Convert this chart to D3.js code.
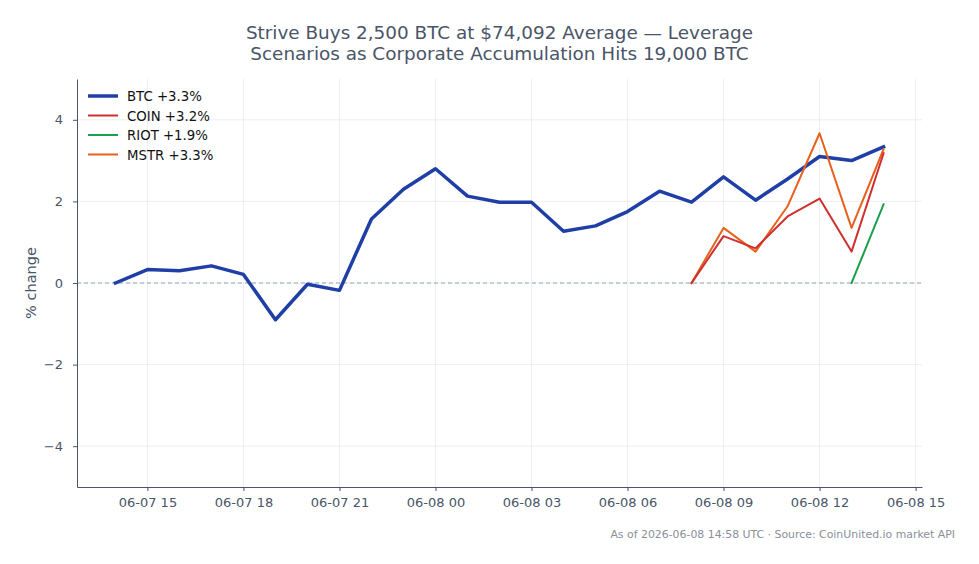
<!DOCTYPE html>
<html>
<head>
<meta charset="utf-8">
<script src="https://cdn.jsdelivr.net/npm/d3@7"></script>
<style>
  body { margin: 0; background: #fff; }
  text { font-family: "DejaVu Sans", sans-serif; }
</style>
</head>
<body>
<div id="chart"></div>
<script>
// hourly timestamps, 06-07 14:00 to 06-08 14:00 UTC
var hours = ["2026-06-07T14:00", "2026-06-07T15:00", "2026-06-07T16:00", "2026-06-07T17:00",
  "2026-06-07T18:00", "2026-06-07T19:00", "2026-06-07T20:00", "2026-06-07T21:00",
  "2026-06-07T22:00", "2026-06-07T23:00", "2026-06-08T00:00", "2026-06-08T01:00",
  "2026-06-08T02:00", "2026-06-08T03:00", "2026-06-08T04:00", "2026-06-08T05:00",
  "2026-06-08T06:00", "2026-06-08T07:00", "2026-06-08T08:00", "2026-06-08T09:00",
  "2026-06-08T10:00", "2026-06-08T11:00", "2026-06-08T12:00", "2026-06-08T13:00",
  "2026-06-08T14:00"];

var btc  = [0, 0.33, 0.30, 0.42, 0.21, -0.90, -0.03, -0.18, 1.57, 2.30, 2.80, 2.13,
            1.98, 1.98, 1.27, 1.40, 1.75, 2.25, 1.98, 2.60, 2.03, 2.55, 3.10, 3.00, 3.34];
// the stocks only trade in the last hours
var coin = [0, 1.15, 0.85, 1.63, 2.07, 0.77, 3.18];   // from 06-08 08:00
var mstr = [0, 1.35, 0.77, 1.88, 3.67, 1.35, 3.28];   // from 06-08 08:00
var riot = [0, 1.93];                                 // from 06-08 13:00

var xTicks = ["2026-06-07T15:00", "2026-06-07T18:00", "2026-06-07T21:00", "2026-06-08T00:00",
  "2026-06-08T03:00", "2026-06-08T06:00", "2026-06-08T09:00", "2026-06-08T12:00",
  "2026-06-08T15:00"];
var yTicks = [-4, -2, 0, 2, 4];

var w = 979, h = 564;
var m = {left: 77, right: 57, top: 79, bottom: 77};

var parse = d3.utcParse("%Y-%m-%dT%H:%M");
var fmt = d3.utcFormat("%m-%d %H");

function pts(vals, startIdx) {
    return vals.map(function(v, i) { return [parse(hours[startIdx + i]), v]; });
}

var series = [
    {name: "BTC",  data: pts(btc, 0),  color: "#1f3fa6", width: 3.5},
    {name: "COIN", data: pts(coin, 18), color: "#d02f2f", width: 2},
    {name: "RIOT", data: pts(riot, 23), color: "#1c9f4c", width: 2},
    {name: "MSTR", data: pts(mstr, 18), color: "#e8601c", width: 2}
];
// BTC first so the stocks sit on top of it
var drawOrder = [0, 3, 1, 2];

var svg = d3.select("#chart").append("svg")
    .attr("width", w)
    .attr("height", h);

var t0 = parse(hours[0]), t1 = parse(hours[hours.length - 1]);
var pad = (t1 - t0) * 0.05;
var xScale = d3.scaleUtc()
    .domain([new Date(+t0 - pad), new Date(+t1 + pad)])
    .range([m.left, w - m.right]);
var yScale = d3.scaleLinear()
    .domain([-5, 5])
    .range([h - m.bottom, m.top]);

// grid
var grid = svg.append("g");
grid.selectAll(".vg")
    .data(xTicks)
    .enter()
    .append("line")
    .attr("x1", function(d) { return xScale(parse(d)); })
    .attr("x2", function(d) { return xScale(parse(d)); })
    .attr("y1", m.top)
    .attr("y2", h - m.bottom)
    .attr("stroke", "#e8eaee")
    .attr("stroke-width", 0.8);
grid.selectAll(".hg")
    .data(yTicks)
    .enter()
    .append("line")
    .attr("x1", m.left)
    .attr("x2", w - m.right)
    .attr("y1", function(d) { return yScale(d); })
    .attr("y2", function(d) { return yScale(d); })
    .attr("stroke", "#e8eaee")
    .attr("stroke-width", 0.8);

// zero line
svg.append("line")
    .attr("x1", m.left)
    .attr("x2", w - m.right)
    .attr("y1", yScale(0))
    .attr("y2", yScale(0))
    .attr("stroke", "#94a3b8")
    .attr("stroke-width", 1)
    .attr("stroke-dasharray", "4,3");

// axes
var axisColor = "#4a5568";
var xAxis = svg.append("g")
    .attr("transform", "translate(0," + (h - m.bottom) + ")")
    .call(d3.axisBottom(xScale)
        .tickValues(xTicks.map(parse))
        .tickFormat(fmt)
        .tickSize(4)
        .tickSizeOuter(0)
        .tickPadding(7));
xAxis.selectAll("text")
    .attr("font-size", 13)
    .attr("fill", axisColor);

var yAxis = svg.append("g")
    .attr("transform", "translate(" + m.left + ",0)")
    .call(d3.axisLeft(yScale)
        .tickValues(yTicks)
        .tickFormat(function(d) { return d < 0 ? "\u2212" + Math.abs(d) : d; })
        .tickSize(4)
        .tickSizeOuter(0)
        .tickPadding(10));
yAxis.selectAll("text")
    .attr("font-size", 13)
    .attr("fill", axisColor);

[xAxis, yAxis].forEach(function(a) {
    a.select(".domain").attr("stroke", axisColor).attr("stroke-width", 1);
    a.selectAll(".tick line").attr("stroke", axisColor);
});

// lines
var line = d3.line()
    .x(function(d) { return xScale(d[0]); })
    .y(function(d) { return yScale(d[1]); });

drawOrder.forEach(function(i) {
    var s = series[i];
    svg.append("path")
        .datum(s.data)
        .attr("d", line)
        .attr("fill", "none")
        .attr("stroke", s.color)
        .attr("stroke-width", s.width)
        .attr("stroke-linejoin", "round")
        .attr("stroke-linecap", "square");
});

// legend
var legend = svg.append("g")
    .attr("transform", "translate(88,96)");
series.forEach(function(s, i) {
    var last = s.data[s.data.length - 1][1];
    var row = legend.append("g").attr("transform", "translate(0," + (i * 19.5) + ")");
    row.append("line")
        .attr("x1", 0).attr("x2", 30)
        .attr("stroke", s.color)
        .attr("stroke-width", s.width);
    row.append("text")
        .attr("x", 39)
        .attr("y", 5)
        .attr("font-size", 13.3)
        .attr("fill", "#111")
        .text(s.name + " +" + last.toFixed(1) + "%");
});

// title
var titleColor = "#4a5568";
svg.append("text")
    .attr("x", (m.left + w - m.right) / 2)
    .attr("y", 39)
    .attr("text-anchor", "middle")
    .attr("font-size", 18.4)
    .attr("fill", titleColor)
    .text("Strive Buys 2,500 BTC at $74,092 Average \u2014 Leverage");
svg.append("text")
    .attr("x", (m.left + w - m.right) / 2)
    .attr("y", 60)
    .attr("text-anchor", "middle")
    .attr("font-size", 18.4)
    .attr("fill", titleColor)
    .text("Scenarios as Corporate Accumulation Hits 19,000 BTC");

// y label
svg.append("text")
    .attr("transform", "translate(36," + yScale(0) + ") rotate(-90)")
    .attr("text-anchor", "middle")
    .attr("font-size", 14.5)
    .attr("fill", axisColor)
    .text("% change");

// footer
svg.append("text")
    .attr("x", 955)
    .attr("y", 538)
    .attr("text-anchor", "end")
    .attr("font-size", 10.9)
    .attr("fill", "#8a8f98")
    .text("As of 2026-06-08 14:58 UTC \u00b7 Source: CoinUnited.io market API");
</script>
</body>
</html>
